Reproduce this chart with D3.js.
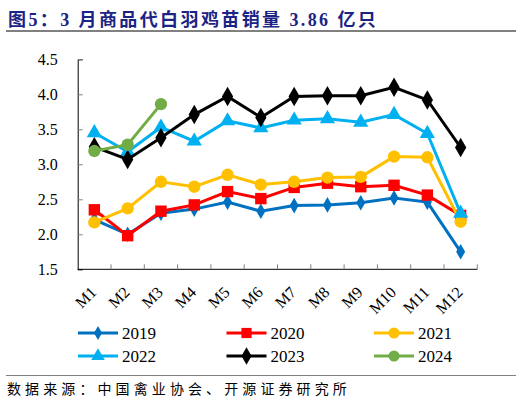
<!DOCTYPE html>
<html>
<head>
<meta charset="utf-8">
<script src="https://cdn.jsdelivr.net/npm/d3@7"></script>
<style>
  body { margin: 0; background: #fff; }
  svg { display: block; }
</style>
</head>
<body>
<div id="chart"></div>
<script>
var width = 522;
var height = 405;

// months and yearly sales (100 million birds)
var months = ['M1', 'M2', 'M3', 'M4', 'M5', 'M6', 'M7', 'M8', 'M9', 'M10', 'M11', 'M12'];
var s2019 = [2.21, 2.00, 2.30, 2.36, 2.46, 2.33, 2.41, 2.42, 2.45, 2.52, 2.46, 1.75];
var s2020 = [2.35, 1.98, 2.33, 2.42, 2.61, 2.51, 2.67, 2.73, 2.68, 2.70, 2.56, 2.27];
var s2021 = [2.17, 2.37, 2.75, 2.68, 2.85, 2.71, 2.75, 2.81, 2.82, 3.11, 3.10, 2.18];
var s2022 = [3.45, 3.18, 3.53, 3.33, 3.62, 3.52, 3.63, 3.65, 3.60, 3.71, 3.44, 2.30];
var s2023 = [3.25, 3.07, 3.38, 3.71, 3.97, 3.67, 3.97, 3.98, 3.98, 4.10, 3.92, 3.24];
var s2024 = [3.19, 3.28, 3.86];
var yTicks = [1.5, 2.0, 2.5, 3.0, 3.5, 4.0, 4.5];

var series = [
  { name: '2019', values: s2019, color: '#0070C0', symbol: d3.symbolDiamond, size: 70 },
  { name: '2020', values: s2020, color: '#FF0000', symbol: d3.symbolSquare, size: 130 },
  { name: '2021', values: s2021, color: '#FFC000', symbol: d3.symbolCircle, size: 120 },
  { name: '2022', values: s2022, color: '#00B0F0', symbol: d3.symbolTriangle, size: 100 },
  { name: '2023', values: s2023, color: '#000000', symbol: d3.symbolDiamond, size: 110 },
  { name: '2024', values: s2024, color: '#70AD47', symbol: d3.symbolCircle, size: 120 }
];

var svg = d3.select('#chart')
  .append('svg')
    .attr('width', width)
    .attr('height', height)
    .style('background-color', '#fff');

// title
svg.append('text')
  .attr('x', 8)
  .attr('y', 26)
  .attr('fill', '#1B2384')
  .style('font-family', '"Liberation Serif", "Noto Sans CJK SC", serif')
  .style('font-size', '18px')
  .style('font-weight', 'bold')
  .style('letter-spacing', '2.4px')
  .text('图5：3 月商品代白羽鸡苗销量 3.86 亿只');

svg.append('line')
  .attr('x1', 6).attr('x2', 516)
  .attr('y1', 31).attr('y2', 31)
  .attr('stroke', '#808080')
  .attr('stroke-width', 2);

var x = d3.scaleBand()
  .domain(months)
  .range([77.7, 477.3]);

var y = d3.scaleLinear()
  .domain([1.5, 4.5])
  .range([269.3, 59.3]);

// y axis
var yAxis = svg.append('g')
  .attr('transform', 'translate(77.7,0)')
  .call(d3.axisRight(y).tickValues(yTicks).tickSize(5).tickFormat(d3.format('.1f')));
yAxis.select('.domain').attr('stroke', '#000');
yAxis.selectAll('.tick line').attr('stroke', '#808080');
yAxis.selectAll('.tick text')
  .attr('x', -20)
  .attr('text-anchor', 'end')
  .style('font-family', '"Liberation Serif", serif')
  .style('font-size', '16px')
  .attr('fill', '#000');

// x axis
var xAxis = svg.append('g')
  .attr('transform', 'translate(0,269.3)');
xAxis.append('line')
  .attr('x1', 77.7).attr('x2', 477.3)
  .attr('stroke', '#000');
xAxis.selectAll('.xt')
  .data(months)
  .join('line')
  .attr('class', 'xt')
  .attr('x1', function(d) { return x(d) + x.bandwidth(); })
  .attr('x2', function(d) { return x(d) + x.bandwidth(); })
  .attr('y1', 0).attr('y2', -5)
  .attr('stroke', '#808080');
xAxis.selectAll('.xl')
  .data(months)
  .join('text')
  .attr('class', 'xl')
  .attr('text-anchor', 'end')
  .attr('transform', function(d) {
    return 'translate(' + (x(d) + x.bandwidth() / 2 + 3) + ',24) rotate(-45)';
  })
  .style('font-family', '"Liberation Serif", serif')
  .style('font-size', '16px')
  .text(function(d) { return d; });

// lines and markers
var line = d3.line()
  .x(function(d, i) { return x(months[i]) + x.bandwidth() / 2; })
  .y(function(d) { return y(d); });

var g = svg.selectAll('.series')
  .data(series)
  .join('g')
  .attr('class', 'series');

g.append('path')
  .attr('d', function(d) { return line(d.values); })
  .attr('fill', 'none')
  .attr('stroke', function(d) { return d.color; })
  .attr('stroke-width', 3);

g.each(function(s) {
  d3.select(this).selectAll('path.mk')
    .data(s.values)
    .join('path')
    .attr('class', 'mk')
    .attr('d', d3.symbol().type(s.symbol).size(s.size))
    .attr('transform', function(d, i) {
      return 'translate(' + (x(months[i]) + x.bandwidth() / 2) + ',' + y(d) + ')';
    })
    .attr('fill', s.color);
});

// legend
var legendX = [78, 226.5, 374];
var legendY = [333, 356];
var lg = svg.selectAll('.lg')
  .data(series)
  .join('g')
  .attr('class', 'lg')
  .attr('transform', function(d, i) {
    return 'translate(' + legendX[i % 3] + ',' + legendY[Math.floor(i / 3)] + ')';
  });
lg.append('line')
  .attr('x1', 0).attr('x2', 40)
  .attr('stroke', function(d) { return d.color; })
  .attr('stroke-width', 3);
lg.append('path')
  .attr('d', function(d) { return d3.symbol().type(d.symbol).size(d.size * 0.8)(); })
  .attr('transform', 'translate(20,0)')
  .attr('fill', function(d) { return d.color; });
lg.append('text')
  .attr('x', 44)
  .attr('dy', '0.35em')
  .style('font-family', '"Liberation Serif", serif')
  .style('font-size', '17px')
  .text(function(d) { return d.name; });

// source
svg.append('line')
  .attr('x1', 6).attr('x2', 516)
  .attr('y1', 375.5).attr('y2', 375.5)
  .attr('stroke', '#808080')
  .attr('stroke-width', 1);
svg.append('text')
  .attr('x', 7)
  .attr('y', 394)
  .style('font-family', '"Noto Sans CJK SC", sans-serif')
  .style('font-size', '14px')
  .style('letter-spacing', '4.1px')
  .attr('fill', '#000')
  .text('数据来源：中国禽业协会、开源证券研究所');
</script>
</body>
</html>
